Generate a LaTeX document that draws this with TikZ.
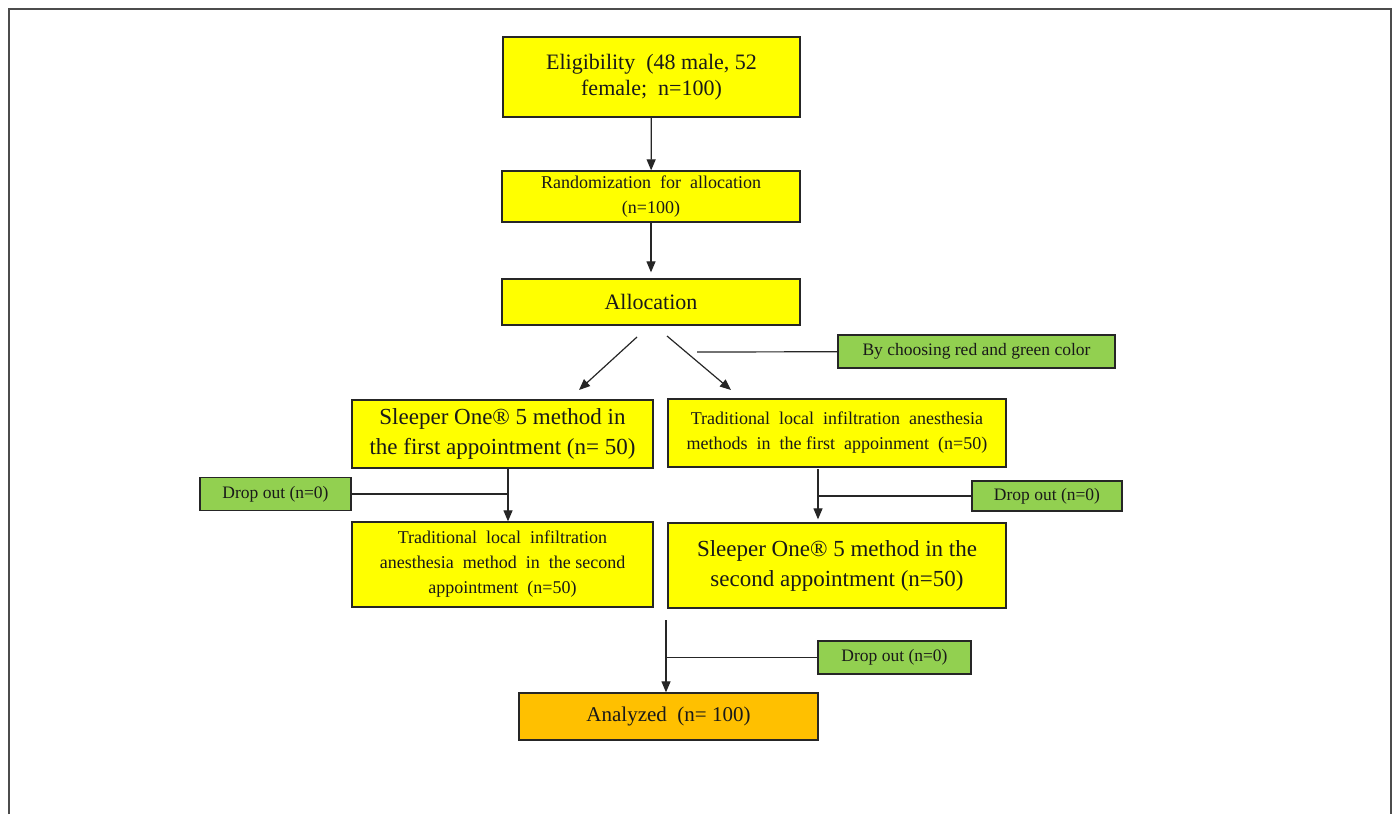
\documentclass[tikz,border=0pt]{standalone}
\usepackage{fontspec}
\setmainfont{Liberation Serif}
\usetikzlibrary{arrows.meta}
\definecolor{boxyellow}{HTML}{FFFF00}
\definecolor{boxgreen}{HTML}{92D050}
\definecolor{boxorange}{HTML}{FFC000}
\tikzset{
	flowbox/.style={draw=black!85, line width=1.3pt, fill=boxyellow, align=center, inner sep=0pt, text=black!90},
	dropbox/.style={flowbox, fill=boxgreen, font=\fontsize{17.5}{20}\selectfont},
	bigtext/.style={font=\fontsize{23}{30}\selectfont},
	midtext/.style={font=\fontsize{22}{26}\selectfont},
	smalltext/.style={font=\fontsize{18}{25}\selectfont},
	flowarrow/.style={line width=1.2pt, black!85, -{Triangle[length=11pt,width=9pt]}},
	flowline/.style={line width=1.2pt, black!85}
}
\begin{document}
\begin{tikzpicture}[x=1pt, y=-1pt]
	\useasboundingbox (0,0) rectangle (1394,814);
	\draw[line width=2pt, black!70] (9,814) -- (9,9) -- (1391,9) -- (1391,814);
	\node[flowbox, midtext, minimum width=297, minimum height=80] (elig) at (651.5,77) {Eligibility\ \ (48 male, 52\\female;\ \ n=100)};
	\node[flowbox, smalltext, minimum width=298, minimum height=51] (rand) at (651,196.5) {Randomization\ \ for\ \ allocation\\(n=100)};
	\node[flowbox, midtext, minimum width=298, minimum height=46] (alloc) at (651,302) {Allocation};
	\node[dropbox, minimum width=277, minimum height=33] (color) at (976.5,351.5) {By choosing red and green color};
	\node[flowbox, bigtext, minimum width=301, minimum height=68] (sleep1) at (502.5,434) {Sleeper One\textregistered\ 5 method in\\the first appointment (n= 50)};
	\node[flowbox, smalltext, minimum width=338, minimum height=68] (trad1) at (837,433) {Traditional\ \ local\ \ infiltration\ \ anesthesia\\methods\ \ in\ \ the first\ \ appoinment\ \ (n=50)};
	\node[dropbox, minimum width=151, minimum height=33] (dropl) at (275.5,494) {Drop out (n=0)};
	\node[dropbox, minimum width=150, minimum height=30] (dropr) at (1047,496) {Drop out (n=0)};
	\node[flowbox, smalltext, minimum width=301, minimum height=85] (trad2) at (502.5,564.5) {Traditional\ \ local\ \ infiltration\\anesthesia\ \ method\ \ in\ \ the second\\appointment\ \ (n=50)};
	\node[flowbox, bigtext, minimum width=338, minimum height=85] (sleep2) at (837,565.5) {Sleeper One\textregistered\ 5 method in the\\second appointment (n=50)};
	\node[dropbox, minimum width=153, minimum height=33] (dropm) at (894.5,657.5) {Drop out (n=0)};
	\node[flowbox, fill=boxorange, font=\fontsize{21}{26}\selectfont, minimum width=299, minimum height=47] (anal) at (668.5,716.5) {Analyzed\ \ (n= 100)};
	\coordinate (splitl) at (637,337);
	\coordinate (endl) at (579,390);
	\coordinate (splitr) at (667,336);
	\coordinate (endr) at (731,390);
	\coordinate (joinr) at (697,352);
	\coordinate (forkl) at (508,468);
	\coordinate (forkr) at (818,469);
	\coordinate (merge) at (666,620);
	\draw[flowarrow] (elig) -- (rand);
	\draw[flowarrow, shorten >=6pt] (rand) -- (alloc);
	\draw[flowarrow] (splitl) -- (endl);
	\draw[flowarrow] (splitr) -- (endr);
	\draw[flowline] (color) -- (joinr);
	\draw[flowarrow] (forkl) -- (forkl |- trad2.north);
	\draw[flowline] (dropl) -- (dropl -| forkl);
	\draw[flowarrow] (forkr) -- ([yshift=3pt]forkr |- sleep2.north);
	\draw[flowline] (dropr) -- (dropr -| forkr);
	\draw[flowarrow] (merge) -- (merge |- anal.north);
	\draw[flowline] (dropm) -- (dropm -| merge);
\end{tikzpicture}
\end{document}
